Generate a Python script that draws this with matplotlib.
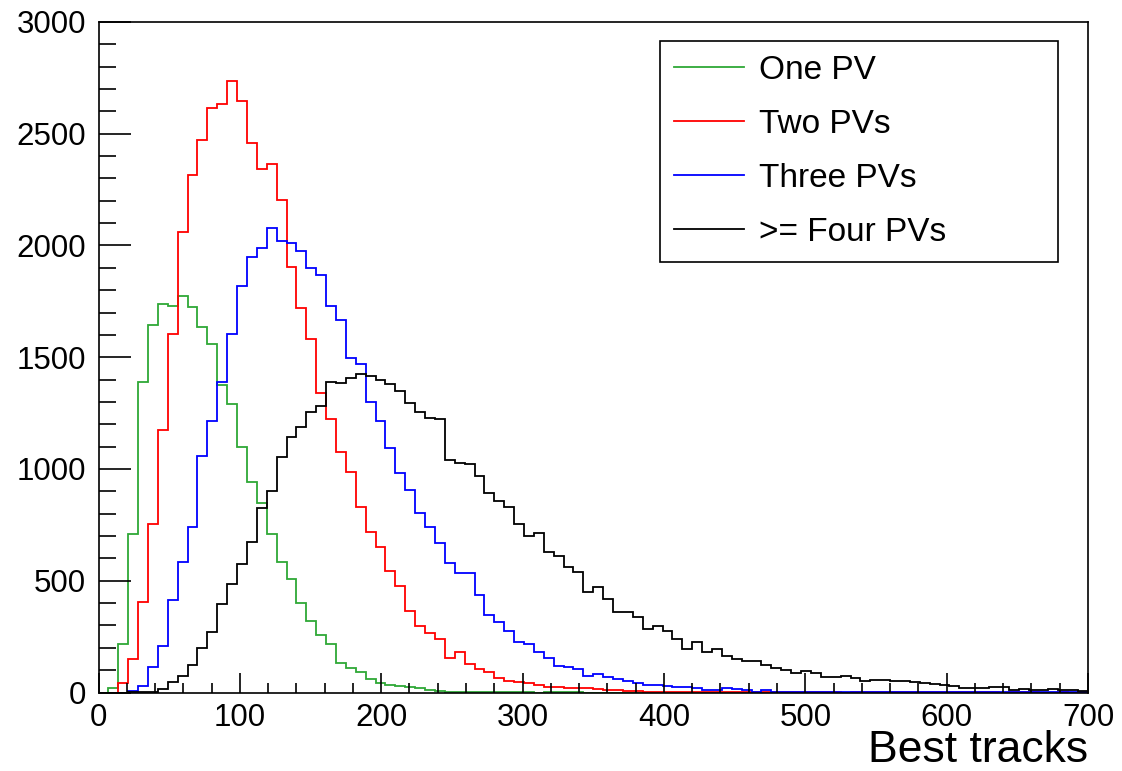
import numpy as np
import matplotlib
matplotlib.use("Agg")
import matplotlib.pyplot as plt
from matplotlib.ticker import MultipleLocator

# 100 bins of width 7 from 0 to 700 ("Best tracks")
X_MIN = 0
X_MAX = 700
N_BINS = 100

one_pv = [
    0, 20, 218, 710, 1390, 1645, 1740, 1730, 1775, 1725,
    1637, 1560, 1375, 1290, 1099, 941, 849, 708, 585, 506,
    399, 321, 257, 217, 133, 108, 93, 60, 41, 34,
    28, 25, 19, 11, 6, 4, 3, 3, 2, 2,
    1, 1, 1, 1, 0, 1, 1, 2, 1, 0,
    0, 0, 0, 0, 0, 0, 0, 0, 0, 0,
    0, 0, 0, 0, 0, 0, 0, 0, 0, 0,
    0, 0, 0, 0, 0, 0, 0, 0, 0, 0,
    0, 0, 0, 0, 0, 0, 0, 0, 0, 0,
    0, 0, 0, 0, 0, 0, 0, 0, 0, 0,
]

two_pvs = [
    0, 0, 44, 152, 405, 756, 1174, 1606, 2061, 2315,
    2471, 2616, 2635, 2736, 2647, 2459, 2341, 2365, 2203, 1904,
    1722, 1582, 1339, 1224, 1078, 985, 831, 718, 652, 545,
    478, 366, 298, 265, 238, 153, 182, 128, 104, 90,
    64, 53, 48, 41, 34, 26, 23, 19, 19, 18,
    14, 11, 11, 6, 5, 4, 4, 3, 3, 2,
    3, 3, 3, 2, 2, 1, 2, 1, 1, 1,
    2, 1, 1, 1, 1, 0, 1, 1, 1, 2,
    1, 1, 1, 2, 1, 1, 2, 1, 1, 1,
    1, 0, 1, 1, 1, 0, 0, 1, 0, 0,
]

three_pvs = [
    0, 0, 0, 8, 29, 112, 207, 413, 582, 740,
    1059, 1213, 1390, 1606, 1819, 1949, 1989, 2080, 2022, 2010,
    1976, 1898, 1866, 1728, 1666, 1495, 1470, 1301, 1216, 1093,
    981, 906, 805, 739, 670, 580, 533, 533, 436, 347,
    317, 277, 228, 217, 180, 153, 120, 113, 105, 75,
    81, 71, 60, 51, 41, 34, 33, 29, 26, 26,
    19, 11, 11, 19, 15, 11, 4, 11, 2, 3,
    3, 3, 4, 3, 3, 2, 3, 3, 3, 3,
    3, 2, 3, 3, 2, 3, 3, 2, 2, 3,
    3, 2, 2, 3, 2, 2, 3, 2, 2, 2,
]

four_plus_pvs = [
    0, 0, 0, 3, 2, 2, 17, 48, 76, 122,
    197, 272, 395, 485, 575, 672, 824, 903, 1052, 1145,
    1189, 1256, 1282, 1391, 1386, 1406, 1425, 1418, 1398, 1379,
    1350, 1297, 1256, 1227, 1222, 1040, 1025, 1021, 969, 891,
    858, 832, 752, 700, 715, 630, 611, 563, 538, 451,
    473, 418, 362, 362, 339, 284, 296, 275, 238, 193,
    228, 183, 193, 165, 149, 142, 142, 123, 108, 101,
    89, 96, 89, 71, 71, 75, 64, 52, 55, 56,
    50, 50, 49, 42, 37, 33, 31, 18, 18, 18,
    23, 23, 10, 15, 12, 12, 16, 12, 12, 6,
]

labels = ["One PV", "Two PVs", "Three PVs", ">= Four PVs"]
colors = ["#2ea836", "#ff0000", "#0000ff", "#000000"]

plt.rcParams["font.family"] = ["Liberation Sans", "DejaVu Sans"]

fig = plt.figure(figsize=(11.22, 7.71), dpi=100)
ax = fig.add_axes([0.0878, 0.1018, 0.8819, 0.8697])

edges = np.linspace(X_MIN, X_MAX, N_BINS + 1)
series = [one_pv, two_pvs, three_pvs, four_plus_pvs]
for vals, label, color in zip(series, labels, colors):
    ax.stairs(vals, edges, color=color, linewidth=1.3, label=label, baseline=None)

ax.set_xlim(X_MIN, X_MAX)
ax.set_ylim(0, 3000)

ax.xaxis.set_major_locator(MultipleLocator(100))
ax.xaxis.set_minor_locator(MultipleLocator(20))
ax.yaxis.set_major_locator(MultipleLocator(500))
ax.yaxis.set_minor_locator(MultipleLocator(100))

ax.tick_params(axis="both", which="both", direction="in", width=1.2, color="black",
               top=False, right=False, labelsize=22.5)
ax.tick_params(axis="x", which="major", length=14.5, pad=7.5)
ax.tick_params(axis="x", which="minor", length=7.2)
ax.tick_params(axis="y", which="major", length=22.8, pad=9)
ax.tick_params(axis="y", which="minor", length=12.5)

for spine in ax.spines.values():
    spine.set_linewidth(1.2)
    spine.set_color("black")

leg = ax.legend(
    loc="upper left",
    bbox_to_anchor=(0.5675, 0.6, 0.402, 0.3717),
    mode="expand",
    borderaxespad=0,
    fontsize=24,
    handlelength=2.1,
    handletextpad=0.45,
    borderpad=0.42,
    labelspacing=0.69,
    fancybox=False,
    framealpha=1,
    edgecolor="black",
)
leg.get_frame().set_linewidth(1.2)

fig.text(1088 / 1122, 9 / 771, "Best tracks", ha="right", va="baseline", fontsize=32)

fig.savefig("out.png", dpi=100)
